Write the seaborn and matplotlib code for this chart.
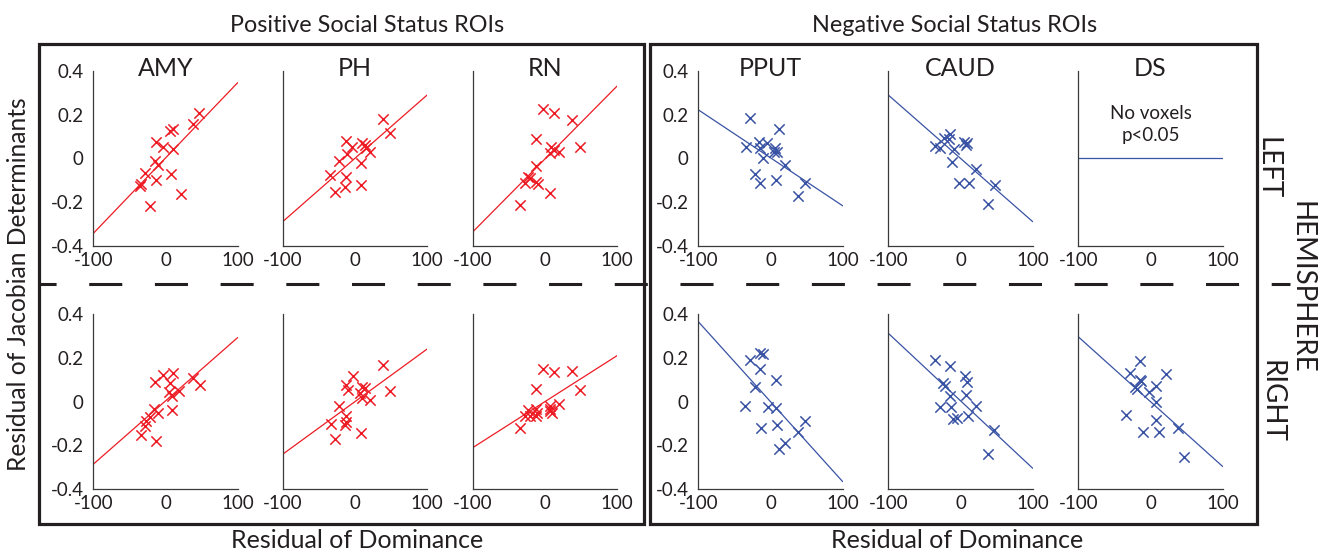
import matplotlib
matplotlib.use('Agg')
import matplotlib.pyplot as plt
from matplotlib.patches import Rectangle
from matplotlib.lines import Line2D
import numpy as np
import pandas as pd
import seaborn as sns

# ROI names and x/y limits
rois = ['AMY', 'PH', 'RN', 'PPUT', 'CAUD', 'DS']
x_ticks = [-100, 0, 100]
y_ticks = [-0.4, -0.2, 0, 0.2, 0.4]

# left hemisphere (top row)
amy_left_x = [47, 38, 11, 6.5, -13, -4, 10, -15, -10, -28, -13, 7, -36, -34, 21, -22]
amy_left_y = [0.205, 0.157, 0.132, 0.126, 0.076, 0.053, 0.043, -0.011, -0.030, -0.065, -0.099, -0.073, -0.126, -0.117, -0.164, -0.216]
ph_left_x = [39, 48, -13, 10, 14, -4, -11, 21, 15, -22, 8, -34, -13, -14, -27, 8]
ph_left_y = [0.181, 0.117, 0.079, 0.072, 0.061, 0.053, 0.020, 0.030, 0.046, -0.011, -0.020, -0.076, -0.084, -0.129, -0.155, -0.122]
rn_left_x = [-3, 12, 38, -13, 48, 9, 12, 20, 6.5, -13, -24, -27, -13, -10, 7, -34, -21]
rn_left_y = [0.225, 0.205, 0.175, 0.087, 0.053, 0.050, 0.038, 0.030, 0.023, -0.035, -0.084, -0.111, -0.107, -0.119, -0.157, -0.213, -0.091]
pput_left_x = [-28, 12, -34, -16, -5.5, -14, 6, 8.5, 5, -11, 20, -22, -14, 7, 47.5, 38]
pput_left_y = [0.186, 0.132, 0.053, 0.076, 0.068, 0.046, 0.046, 0.030, 0.027, 0, -0.030, -0.072, -0.114, -0.099, -0.111, -0.172]
caud_left_x = [-14, -16, -23, -35, -28, -9, 5.5, 9, 7, -11.5, 21, -2, 11.5, 47.5, 38]
caud_left_y = [0.110, 0.088, 0.094, 0.056, 0.046, 0.041, 0.076, 0.068, 0.061, -0.015, -0.050, -0.114, -0.111, -0.122, -0.209]
ds_left_x = []
ds_left_y = []

# right hemisphere (bottom row)
amy_right_x = [-4, 11, -14, 6.5, 38, 48, 5.5, 19, 9, -16, -11, -22, -27, -28, 9, -34, -13]
amy_right_y = [0.122, 0.129, 0.091, 0.084, 0.107, 0.076, 0.046, 0.050, 0.026, -0.035, -0.053, -0.068, -0.088, -0.111, -0.038, -0.152, -0.178]
ph_right_x = [39, -3, -13, -10, 48, 10, 14, 6.5, 21, 10, -22, -13, -12, -14, -33, -27, 8]
ph_right_y = [0.167, 0.117, 0.076, 0.053, 0.050, 0.065, 0.064, 0.038, 0.008, 0.015, -0.020, -0.065, -0.091, -0.107, -0.102, -0.170, -0.145]
rn_right_x = [-3, 12, 38, -13, 48, 7, 20, 10, 6.5, -23, -13, -11, -20, -27, -13, -34, 7]
rn_right_y = [0.148, 0.137, 0.142, 0.058, 0.053, -0.020, -0.011, -0.050, -0.041, -0.038, -0.035, -0.053, -0.065, -0.065, -0.065, -0.122, -0.035]
pput_right_x = [-15, -10.5, -28, -14, 8, -22, -35, -3, 8, -13, 9, 48, 38, 20, 11.5]
pput_right_y = [0.224, 0.218, 0.190, 0.149, 0.099, 0.065, -0.020, -0.026, -0.030, -0.122, -0.107, -0.087, -0.137, -0.187, -0.218]
caud_right_x = [-35, -15, 6, 9, -24, -22, 7, -14, -29, -12.5, 21, 10.5, -5.5, -11, 47, 37.5]
caud_right_y = [0.190, 0.163, 0.117, 0.091, 0.084, 0.073, 0.030, 0.026, -0.023, -0.023, -0.020, -0.065, -0.073, -0.081, -0.129, -0.239]
ds_right_x = [-14, -28, 21, -15, -12.5, -22, -19, 8, -2, 8, -34, 8, 38, -10, 11.5, 47]
ds_right_y = [0.184, 0.131, 0.126, 0.099, 0.093, 0.065, 0.058, 0.073, 0.043, 0, -0.059, -0.084, -0.120, -0.140, -0.140, -0.254]

# regression lines (slope per unit dominance, intercept)
fit_slope_left = [0.00344, 0.00289, 0.00333, -0.00219, -0.00289, 0.0]
fit_icpt_left = [0.0015, 0.0, -0.003, 0.0025, 0.0, 0.0]
fit_slope_right = [0.00289, 0.0024, 0.0021, -0.00365, -0.00308, -0.00296]
fit_icpt_right = [0.0035, 0.0, 0.0, 0.0, 0.004, 0.0]

RED = '#ed1c24'
BLUE = '#3953a4'
DARK = '#231f20'
W, H = 1319, 555

sns.set_theme(style='white')
plt.rcParams['font.family'] = ['Lato', 'DejaVu Sans']
plt.rcParams['axes.unicode_minus'] = False
plt.rcParams['lines.scale_dashes'] = False

fig = plt.figure(figsize=(W / 100, H / 100), dpi=100)

col_left_px = [93.3, 282.7, 472.7, 698.3, 888.3, 1078.3]
row_top_px = [70.7, 314.0]
ax_w, ax_h = 144.4, 175.3

data_left = [(amy_left_x, amy_left_y), (ph_left_x, ph_left_y), (rn_left_x, rn_left_y),
             (pput_left_x, pput_left_y), (caud_left_x, caud_left_y), (ds_left_x, ds_left_y)]
data_right = [(amy_right_x, amy_right_y), (ph_right_x, ph_right_y), (rn_right_x, rn_right_y),
              (pput_right_x, pput_right_y), (caud_right_x, caud_right_y), (ds_right_x, ds_right_y)]

for r, (rows, slopes, icpts) in enumerate([(data_left, fit_slope_left, fit_icpt_left),
                                            (data_right, fit_slope_right, fit_icpt_right)]):
    for c in range(6):
        ax = fig.add_axes([col_left_px[c] / W, 1 - (row_top_px[r] + ax_h) / H, ax_w / W, ax_h / H])
        color = RED if c < 3 else BLUE
        xs, ys = rows[c]
        if len(xs):
            df = pd.DataFrame({'dom': xs, 'jac': ys})
            sns.scatterplot(data=df, x='dom', y='jac', marker='x', color=color, s=55,
                            linewidth=1.1, ax=ax, zorder=3)
        line_x = np.array(x_ticks[::2], dtype=float)
        sns.lineplot(x=line_x, y=icpts[c] + slopes[c] * line_x, color=color, lw=0.9, ax=ax)
        ax.set_xlim(-100, 100)
        ax.set_ylim(-0.4, 0.4)
        ax.set_xticks(x_ticks)
        ax.set_yticks(y_ticks)
        ax.set_xticklabels([str(t) for t in x_ticks])
        if c in (0, 3):
            ax.set_yticklabels(['-0.4', '-0.2', '0', '0.2', '0.4'])
        else:
            ax.set_yticklabels([])
        ax.set_xlabel('')
        ax.set_ylabel('')
        sns.despine(ax=ax)
        for sp in ('left', 'bottom'):
            ax.spines[sp].set_color('#3a3a3a')
            ax.spines[sp].set_linewidth(0.9)
        ax.tick_params(direction='in', length=3, width=0.8, color='#3a3a3a',
                       labelcolor=DARK, labelsize=13.5, pad=4)
        ax.tick_params(axis='y', pad=7)
        ax.patch.set_alpha(0)
        if r == 0:
            ax.text(0.5, 1.015, rois[c], transform=ax.transAxes, ha='center', va='center',
                    fontsize=18, color=DARK)
        if r == 0 and c == 5:
            ax.text(0, 0.155, 'No voxels\np<0.05', ha='center', va='center',
                    fontsize=13.5, color=DARK, linespacing=1.4)

# boxes around the two ROI groups
for x0, x1 in [(38.5, 644), (650, 1257)]:
    fig.add_artist(Rectangle((x0 / W, 1 - 524 / H), (x1 - x0) / W, (524 - 44) / H,
                             transform=fig.transFigure, fill=False, lw=2.3, ec=DARK))

# dashed separator between hemispheres
fig.add_artist(Line2D([38.5 / W, 1290 / W], [1 - 284 / H, 1 - 284 / H],
                      transform=fig.transFigure, color=DARK, lw=2.2,
                      linestyle=(11.5, (23.8, 23.5)), solid_capstyle='butt', dash_capstyle='butt'))

fig.text(367 / W, 1 - 26 / H, 'Positive Social Status ROIs', ha='center', va='center', fontsize=16.8, color=DARK)
fig.text(955 / W, 1 - 26 / H, 'Negative Social Status ROIs', ha='center', va='center', fontsize=16.8, color=DARK)
fig.text(357 / W, 1 - 541 / H, 'Residual of Dominance', ha='center', va='center', fontsize=18, color=DARK)
fig.text(957 / W, 1 - 541 / H, 'Residual of Dominance', ha='center', va='center', fontsize=18, color=DARK)
fig.text(19 / W, 1 - 284 / H, 'Residual of Jacobian Determinants', ha='center', va='center',
         rotation=90, fontsize=17.7, color=DARK)
fig.text(1268 / W, 1 - 168 / H, 'LEFT', ha='center', va='center', rotation=270, fontsize=20, color=DARK)
fig.text(1301 / W, 1 - 287 / H, 'HEMISPHERE', ha='center', va='center', rotation=270, fontsize=20, color=DARK)
fig.text(1272 / W, 1 - 401 / H, 'RIGHT', ha='center', va='center', rotation=270, fontsize=20, color=DARK)

fig.savefig('out.png', dpi=100, facecolor='white')
